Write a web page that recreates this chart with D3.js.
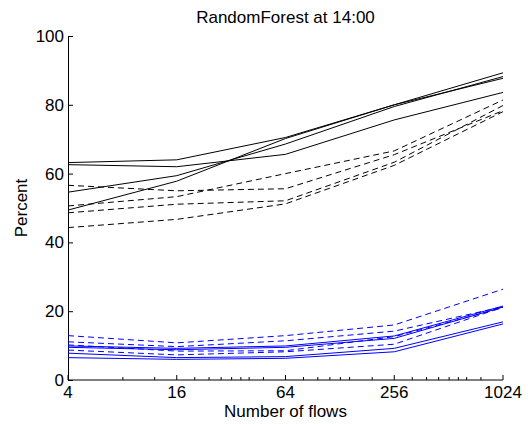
<!DOCTYPE html>
<html>
<head>
<meta charset="utf-8">
<script src="https://cdn.jsdelivr.net/npm/d3@7"></script>
<style>
  body { margin: 0; background: #fff; }
  svg text { font-family: "Liberation Sans", Arial, Helvetica, sans-serif; }
</style>
</head>
<body>
<div id="chart"></div>
<script>
// x values (number of flows) and tick marks
const flows = [4, 16, 64, 256, 1024];
const minorFlowTicks = [8, 12, 20, 24, 28, 32, 36, 40, 48, 80, 96, 112, 128, 144, 192, 320, 384, 448, 512, 576, 640, 768];
const percentTicks = [0, 20, 40, 60, 80, 100];

// black solid lines
const blackSolid = [
  [63.2, 64.0, 70.5, 80.0, 89.3],
  [62.6, 62.0, 65.6, 75.6, 83.6],
  [54.6, 59.4, 68.6, 79.5, 88.2],
  [49.4, 57.8, 70.2, 80.0, 87.7]
];
// black dashed lines
const blackDashed = [
  [56.6, 55.0, 55.6, 65.5, 78.3],
  [50.6, 53.3, 60.0, 66.6, 81.4],
  [48.6, 51.1, 52.1, 63.3, 79.8],
  [44.3, 46.7, 51.2, 62.4, 78.0]
];
// blue solid lines
const blueSolid = [
  [9.9, 9.2, 9.9, 12.8, 21.5],
  [9.5, 8.8, 9.5, 12.1, 21.2],
  [7.8, 6.5, 6.8, 9.2, 16.9],
  [6.5, 6.0, 6.3, 8.2, 16.3]
];
// blue dashed lines
const blueDashed = [
  [12.9, 10.8, 12.9, 16.0, 26.4],
  [11.1, 9.7, 11.4, 14.2, 21.3],
  [10.2, 8.4, 8.5, 12.6, 21.0],
  [8.7, 7.3, 8.2, 10.4, 21.2]
];

class flowsChart {

  constructor(_config) {
    this.config = {
      parentElement: _config.parentElement,
      containerWidth: _config.containerWidth || 528,
      containerHeight: _config.containerHeight || 424,
      margin: _config.margin || {top: 36, right: 25, bottom: 44, left: 68}
    };
    this.initVis();
  }

  initVis() {
    let vis = this;

    vis.width = vis.config.containerWidth - vis.config.margin.left - vis.config.margin.right;
    vis.height = vis.config.containerHeight - vis.config.margin.top - vis.config.margin.bottom;

    vis.svg = d3.select(vis.config.parentElement).append('svg')
      .attr('width', vis.config.containerWidth)
      .attr('height', vis.config.containerHeight);

    vis.chart = vis.svg.append('g')
      .attr('transform', `translate(${vis.config.margin.left},${vis.config.margin.top})`);

    vis.xScale = d3.scaleLog().base(2)
      .domain([4, 1024])
      .range([0, vis.width]);

    vis.yScale = d3.scaleLinear()
      .domain([0, 100])
      .range([vis.height, 0]);

    vis.line = d3.line()
      .x((d, i) => vis.xScale(flows[i]))
      .y(d => vis.yScale(d));

    // each group of series with its own look
    vis.groups = [
      {rows: blackSolid, colour: '#000', dash: null},
      {rows: blackDashed, colour: '#000', dash: '6,4'},
      {rows: blueSolid, colour: '#0000ff', dash: null},
      {rows: blueDashed, colour: '#0000ff', dash: '6,4'}
    ];

    vis.renderVis();
  }

  renderVis() {
    let vis = this;

    // minor ticks on x
    vis.chart.append('g')
      .attr('class', 'x-minor')
      .attr('transform', `translate(0,${vis.height})`)
      .call(d3.axisBottom(vis.xScale).tickValues(minorFlowTicks).tickFormat('').tickSizeInner(-3).tickSizeOuter(0))
      .call(g => g.select('.domain').remove());

    // x axis
    vis.chart.append('g')
      .attr('class', 'x-axis')
      .attr('transform', `translate(0,${vis.height})`)
      .call(d3.axisBottom(vis.xScale).tickValues(flows).tickFormat(d3.format('d'))
        .tickSizeInner(-5).tickSizeOuter(0).tickPadding(6).offset(0))
      .call(g => g.selectAll('text').attr('font-size', 17).attr('fill', '#000')
        .attr('font-family', '"Liberation Sans", Arial, sans-serif'));

    // y axis
    vis.chart.append('g')
      .attr('class', 'y-axis')
      .call(d3.axisLeft(vis.yScale).tickValues(percentTicks)
        .tickSizeInner(-5).tickSizeOuter(0).tickPadding(4))
      .call(g => g.selectAll('text').attr('font-size', 17).attr('fill', '#000')
        .attr('font-family', '"Liberation Sans", Arial, sans-serif'));

    // lines
    vis.groups.forEach(grp => {
      vis.chart.append('g')
        .selectAll('path')
        .data(grp.rows)
        .join('path')
        .attr('d', vis.line)
        .attr('fill', 'none')
        .attr('stroke', grp.colour)
        .attr('stroke-width', 1)
        .attr('stroke-dasharray', grp.dash);
    });

    // title
    vis.svg.append('text')
      .attr('x', vis.config.margin.left + vis.width / 2)
      .attr('y', 22.5)
      .attr('text-anchor', 'middle')
      .attr('font-size', 17)
      .text('RandomForest at 14:00');

    // axis titles
    vis.svg.append('text')
      .attr('x', vis.config.margin.left + vis.width / 2)
      .attr('y', 416.5)
      .attr('text-anchor', 'middle')
      .attr('font-size', 17)
      .text('Number of flows');

    vis.svg.append('text')
      .attr('transform', `translate(27,${vis.config.margin.top + vis.height / 2}) rotate(-90)`)
      .attr('text-anchor', 'middle')
      .attr('font-size', 17)
      .text('Percent');
  }
}

let chart = new flowsChart({parentElement: '#chart'});
</script>
</body>
</html>
